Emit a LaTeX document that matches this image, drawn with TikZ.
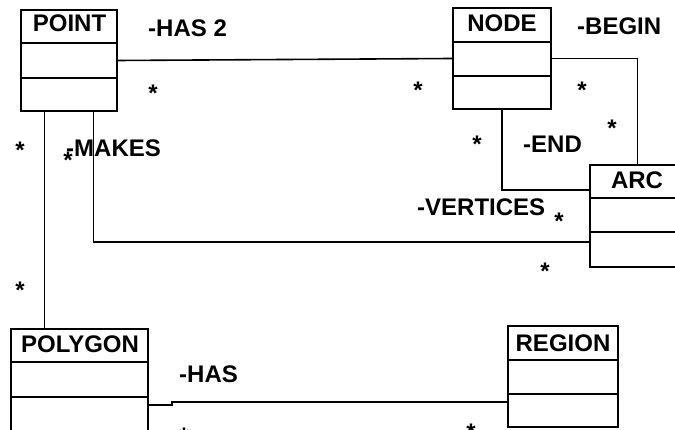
\documentclass[tikz,border=0pt]{standalone}
\usepackage{fontspec}
\setmainfont{Liberation Sans}
\usetikzlibrary{calc}
\tikzset{
  cls/.style={draw, line width=1.6pt, inner sep=0pt, fill=none},
  wire/.style={line width=1.6pt, line join=miter},
  ttl/.style={anchor=base, inner sep=0pt, font=\fontsize{24}{28}\selectfont\bfseries},
  lbl/.style={anchor=base west, inner sep=0pt, font=\fontsize{24}{28}\selectfont\bfseries},
  mult/.style={anchor=base, inner sep=0pt, yshift=-13.7pt, font=\fontsize{24}{28}\selectfont\bfseries}
}
% class box: name, x1, y1, x2, y2, divider1, divider2
\newcommand{\umlbox}[7]{%
  \node[cls, minimum width=#4-#2, minimum height=#5-#3] (#1) at ({(#2+#4)/2},{(#3+#5)/2}) {};
  \draw[line width=1.6pt] (#2,#6) -- (#4,#6) (#2,#7) -- (#4,#7);
}
\begin{document}
\begin{tikzpicture}[x=1pt, y=-1pt]
\useasboundingbox (0,0) rectangle (675,430);
\clip (0,0) rectangle (675,430);
\fill[white] (0,0) rectangle (675,430);

% classes
\umlbox{point}{21}{10}{117}{111}{43}{78}
\umlbox{nodecls}{453}{8}{551}{109}{42}{76}
\umlbox{arc}{590}{165}{685}{267}{198}{232}
\umlbox{polygon}{11}{329}{148}{433}{362}{397}
\umlbox{region}{508}{326}{618}{427}{360}{394}

\node[ttl] (tpoint) at (69.5,32) {POINT};
\node[ttl] (tnode) at (502,32) {NODE};
\node[ttl] (tarc) at (637,189) {ARC};
\node[ttl] (tpolygon) at (80,353) {POLYGON};
\node[ttl] (tregion) at (563,352) {REGION};

% connectors
\coordinate (pa) at ($(point.south west)!0.25!(point.south east)$);
\coordinate (pb) at ($(point.south west)!0.75!(point.south east)$);
\coordinate (arcend) at ($(arc.north west)!0.25!(arc.south west)$);
\coordinate (arcvert) at ($(arc.north west)!0.75!(arc.south west)$);
\coordinate (regionhas) at ($(region.north west)!0.75!(region.south west)$);
\coordinate (polyhas) at (polygon.east |- 0,405);
\coordinate (jog) at (172,405);

\draw[wire] (point.east) -- (nodecls.west);
\draw[wire] (nodecls.east) -| (arc.north);
\draw[wire] (nodecls.south) |- (arcend);
\draw[wire] (pb) |- (arcvert);
\draw[wire] (pa) -- (pa |- polygon.north);
\draw[wire] (polyhas) -- (jog) -- (jog |- regionhas) -- (regionhas);

% role labels
\node[lbl] (lhas2) at (148,37) {-HAS 2};
\node[lbl] (lmakes) at (66,157) {-MAKES};
\node[lbl] (lbegin) at (577,35) {-BEGIN};
\node[lbl] (lend) at (523,153) {-END};
\node[lbl] (lvert) at (417,216) {-VERTICES};
\node[lbl] (lhas) at (179,382) {-HAS};

% multiplicities
\node[mult] (m1) at (153,88) {*};
\node[mult] (m2) at (20,145) {*};
\node[mult] (m3) at (68,155) {*};
\node[mult] (m4) at (20,285) {*};
\node[mult] (m5) at (418,85) {*};
\node[mult] (m6) at (582,85) {*};
\node[mult] (m7) at (612,123) {*};
\node[mult] (m8) at (477,139) {*};
\node[mult] (m9) at (559,216) {*};
\node[mult] (m10) at (545,266) {*};
\node[mult] (m11) at (184,431) {*};
\node[mult] (m12) at (471,427) {*};
\end{tikzpicture}
\end{document}
